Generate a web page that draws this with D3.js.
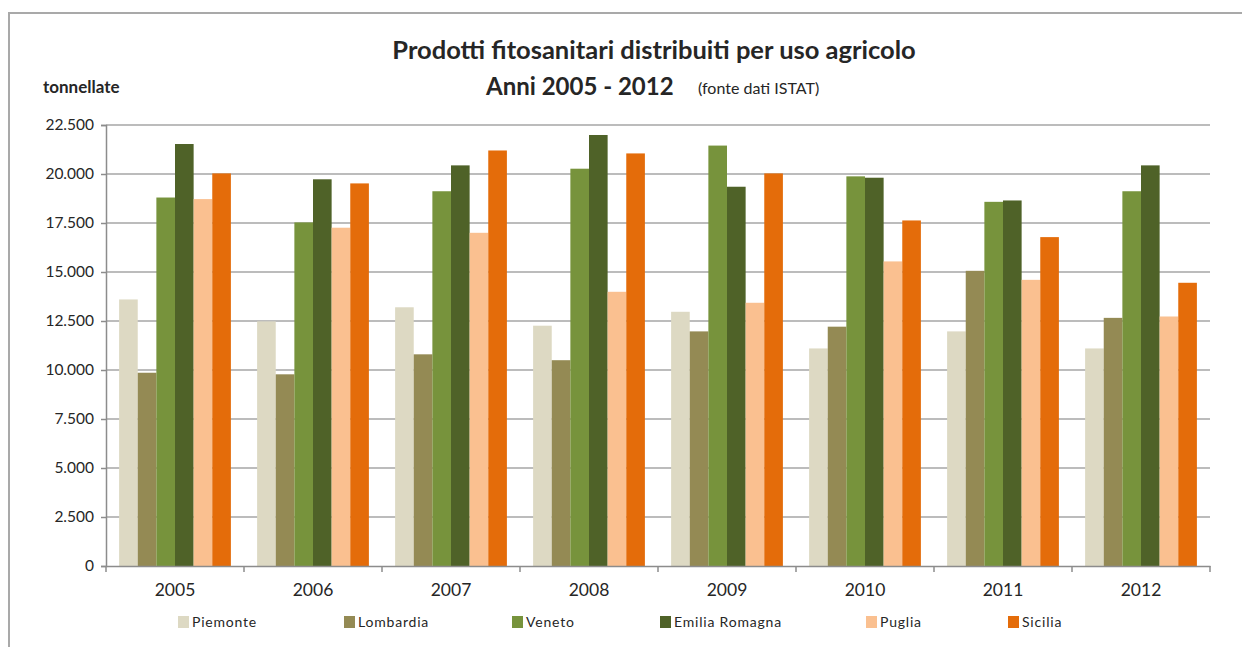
<!DOCTYPE html>
<html>
<head>
<meta charset="utf-8">
<script src="https://cdn.jsdelivr.net/npm/d3@7"></script>
<style>
  body { margin: 0; background: #fff; }
  text { font-family: Lato, "Open Sans", sans-serif; fill: #262626; }
</style>
</head>
<body>
<div id="chart"></div>
<script>
// data (tonnellate)
var years = ["2005", "2006", "2007", "2008", "2009", "2010", "2011", "2012"];
var regions = ["Piemonte", "Lombardia", "Veneto", "Emilia Romagna", "Puglia", "Sicilia"];
var piemonte  = [13600, 12480, 13200, 12260, 12970, 11100, 11970, 11100];
var lombardia = [9860, 9780, 10800, 10500, 11970, 12210, 15060, 12660];
var veneto    = [18800, 17530, 19120, 20270, 21450, 19880, 18580, 19120];
var emilia    = [21530, 19730, 20440, 21990, 19350, 19810, 18650, 20440];
var puglia    = [18720, 17260, 17000, 13990, 13430, 15540, 14600, 12730];
var sicilia   = [20030, 19520, 21200, 21050, 20030, 17630, 16780, 14450];
var yTicks = [0, 2500, 5000, 7500, 10000, 12500, 15000, 17500, 20000, 22500];

var series = [piemonte, lombardia, veneto, emilia, puglia, sicilia];
var colors = ["#ddd9c3", "#948a54", "#77933c", "#4f6228", "#fac090", "#e46c0a"];

var W = 1242, H = 647;
var margin = {top: 125, left: 106, right: 32, bottom: 81};
var width = W - margin.left - margin.right,
    height = H - margin.top - margin.bottom;

var svg = d3.select("#chart").append("svg")
  .attr("width", W)
  .attr("height", H);

// chart frame
svg.append("rect")
  .attr("x", 9).attr("y", 13)
  .attr("width", W).attr("height", H)
  .attr("fill", "none")
  .attr("stroke", "#a9a9a9")
  .attr("stroke-width", 2);

var g = svg.append("g")
  .attr("transform", "translate(" + margin.left + "," + margin.top + ")");

var x0 = d3.scaleBand().domain(years).range([0, width]).paddingInner(0.19).paddingOuter(0.095);
var x1 = d3.scaleBand().domain(regions).range([0, x0.bandwidth()]);
var y = d3.scaleLinear().domain([0, 22500]).range([height, 0]);

var it = d3.formatLocale({decimal: ",", thousands: ".", grouping: [3], currency: ["", ""]});
var fmt = it.format(",d");

// gridlines
g.selectAll(".grid")
  .data(yTicks.slice(1))
  .enter().append("line")
  .attr("x1", 0).attr("x2", width)
  .attr("y1", function(d) { return y(d); })
  .attr("y2", function(d) { return y(d); })
  .attr("stroke", "#a6a6a6")
  .attr("stroke-width", 1.5);

// y axis
var yAxis = g.append("g")
  .call(d3.axisLeft(y).tickValues(yTicks).tickFormat(fmt).tickSize(5).tickPadding(7));
yAxis.select(".domain").attr("stroke", "#8c8c8c").attr("stroke-width", 1.5);
yAxis.selectAll(".tick line").attr("stroke", "#8c8c8c").attr("stroke-width", 1.5);
yAxis.selectAll("text").style("font-size", "15.5px").attr("fill", "#333");

// bars
var groups = g.selectAll(".year")
  .data(years)
  .enter().append("g")
  .attr("transform", function(d) { return "translate(" + x0(d) + ",0)"; });

groups.selectAll("rect")
  .data(function(d, i) { return regions.map(function(r, j) { return {region: r, value: series[j][i], c: colors[j]}; }); })
  .enter().append("rect")
  .attr("x", function(d) { return x1(d.region); })
  .attr("width", x1.bandwidth())
  .attr("y", function(d) { return y(d.value); })
  .attr("height", function(d) { return height - y(d.value); })
  .attr("fill", function(d) { return d.c; });

// x axis
var xAxis = g.append("g")
  .attr("transform", "translate(0," + height + ")")
  .call(d3.axisBottom(x0).tickSize(0).tickPadding(18));
xAxis.select(".domain").attr("stroke", "#8c8c8c").attr("stroke-width", 1.5);
xAxis.selectAll("text").style("font-size", "17.5px").attr("fill", "#262626");

var bounds = years.map(function(d) { return x0(d) - x0.step() * x0.paddingInner() / 2; }).concat([width]);
xAxis.selectAll(".bound")
  .data(bounds)
  .enter().append("line")
  .attr("x1", function(d) { return d; }).attr("x2", function(d) { return d; })
  .attr("y1", 0).attr("y2", 6)
  .attr("stroke", "#8c8c8c")
  .attr("stroke-width", 1.5);

// titles
svg.append("text")
  .attr("x", 654).attr("y", 59)
  .attr("text-anchor", "middle")
  .style("font-size", "25.5px").style("font-weight", "bold")
  .attr("fill", "#000")
  .text("Prodotti fitosanitari distribuiti per uso agricolo");

svg.append("text")
  .attr("x", 486).attr("y", 95)
  .style("font-size", "24px").style("font-weight", "bold")
  .attr("fill", "#000")
  .text("Anni 2005 - 2012");

svg.append("text")
  .attr("x", 698).attr("y", 94)
  .style("font-size", "16px")
  .attr("fill", "#000")
  .text("(fonte dati ISTAT)");

svg.append("text")
  .attr("x", 43).attr("y", 93)
  .style("font-size", "17px").style("font-weight", "bold")
  .attr("fill", "#000")
  .text("tonnellate");

// legend
var legendX = [178, 344, 512, 660, 866, 1008];
var legend = svg.selectAll(".legend")
  .data(regions)
  .enter().append("g")
  .attr("transform", function(d, i) { return "translate(" + legendX[i] + ",616)"; });

legend.append("rect")
  .attr("width", 11).attr("height", 12)
  .attr("fill", function(d, i) { return colors[i]; });

legend.append("text")
  .attr("x", 14).attr("y", 11)
  .style("font-size", "14px")
  .style("letter-spacing", "0.8px")
  .attr("fill", "#333")
  .text(function(d) { return d; });
</script>
</body>
</html>
